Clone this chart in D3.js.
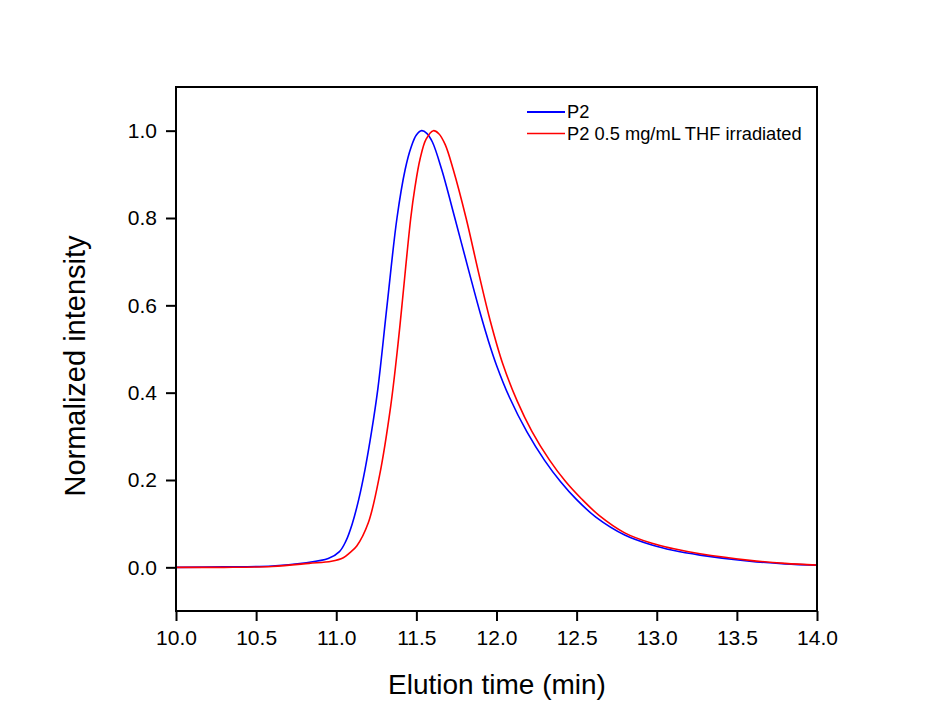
<!DOCTYPE html>
<html>
<head>
<meta charset="utf-8">
<script src="https://cdn.jsdelivr.net/npm/d3@7"></script>
<style>
  html, body { margin: 0; padding: 0; background: #ffffff; }
  svg { display: block; }
  text { font-family: "Liberation Sans", Arial, sans-serif; fill: #000; }
</style>
</head>
<body>
<svg id="chart" width="935" height="727"></svg>
<script>
// ---- data ----
const seriesNames = ["P2", "P2 0.5 mg/mL THF irradiated"];
const seriesColors = ["#0000ff", "#ff0000"];

const p2Time = [10.0, 10.3, 10.6, 10.8, 10.95, 11.02, 11.06, 11.1, 11.14, 11.18, 11.22, 11.26, 11.317, 11.379, 11.43, 11.467, 11.5, 11.533, 11.565, 11.6, 11.658, 11.74, 11.83, 11.9, 11.95, 12.0, 12.08, 12.19, 12.3, 12.4, 12.5, 12.62, 12.8, 12.97, 13.1, 13.27, 13.58, 13.8, 14.0];
const p2Value = [0.0, 0.001, 0.003, 0.010, 0.020, 0.036, 0.06, 0.10, 0.155, 0.225, 0.31, 0.41, 0.6, 0.8, 0.911, 0.962, 0.99, 1.0, 0.994, 0.974, 0.911, 0.80, 0.675, 0.58, 0.518, 0.463, 0.39, 0.31, 0.245, 0.196, 0.155, 0.115, 0.074, 0.051, 0.039, 0.028, 0.014, 0.008, 0.005];

const irrTime = [10.0, 10.3, 10.6, 10.83, 10.97, 11.044, 11.08, 11.128, 11.2, 11.27, 11.34, 11.385, 11.41, 11.465, 11.491, 11.523, 11.56, 11.606, 11.64, 11.68, 11.73, 11.81, 11.89, 11.96, 12.04, 12.13, 12.22, 12.33, 12.43, 12.53, 12.64, 12.8, 12.97, 13.1, 13.27, 13.58, 13.8, 14.0];
const irrValue = [0.0, 0.0, 0.002, 0.009, 0.014, 0.022, 0.032, 0.049, 0.102, 0.21, 0.37, 0.51, 0.6, 0.8, 0.87, 0.935, 0.98, 1.0, 0.993, 0.968, 0.911, 0.80, 0.672, 0.566, 0.465, 0.38, 0.312, 0.246, 0.197, 0.157, 0.119, 0.079, 0.055, 0.043, 0.031, 0.016, 0.009, 0.005];

const xTicks = [10.0, 10.5, 11.0, 11.5, 12.0, 12.5, 13.0, 13.5, 14.0];
const yTicks = [0.0, 0.2, 0.4, 0.6, 0.8, 1.0];
const xTitle = "Elution time (min)";
const yTitle = "Normalized intensity";

// ---- layout ----
const svg = d3.select("#chart");
const plotL = 176, plotR = 817, plotT = 87, plotB = 611;

const x = d3.scaleLinear().domain([10, 14]).range([plotL, plotR]);
const y = d3.scaleLinear().domain([-0.1, 1.1]).range([plotB, plotT]);

// curves
const series = [
  { name: seriesNames[0], color: seriesColors[0], pts: p2Time.map((t, i) => [t, p2Value[i]]) },
  { name: seriesNames[1], color: seriesColors[1], pts: irrTime.map((t, i) => [t, irrValue[i]]) }
];
const line = d3.line().x(d => x(d[0])).y(d => y(d[1])).curve(d3.curveCatmullRom.alpha(0.5));

svg.append("g").selectAll("path").data(series).join("path")
  .attr("d", d => line(d.pts))
  .attr("fill", "none")
  .attr("stroke", d => d.color)
  .attr("stroke-width", 1.6);

// frame
svg.append("rect")
  .attr("x", plotL).attr("y", plotT)
  .attr("width", plotR - plotL).attr("height", plotB - plotT)
  .attr("fill", "none").attr("stroke", "#000").attr("stroke-width", 2);

// axes
const xAxis = d3.axisBottom(x).tickValues(xTicks).tickFormat(d3.format(".1f")).tickSizeOuter(0).tickSizeInner(10).tickPadding(8);
const gx = svg.append("g").attr("transform", `translate(0,${plotB})`).call(xAxis);
gx.select(".domain").remove();
gx.selectAll(".tick line").attr("stroke", "#000").attr("stroke-width", 2);
gx.selectAll(".tick text").attr("font-size", 21).attr("font-family", "Liberation Sans, Arial, sans-serif").attr("dy", "0.75em");

const yAxis = d3.axisLeft(y).tickValues(yTicks).tickFormat(d3.format(".1f")).tickSizeOuter(0).tickSizeInner(10).tickPadding(9);
const gy = svg.append("g").attr("transform", `translate(${plotL},0)`).call(yAxis);
gy.select(".domain").remove();
gy.selectAll(".tick line").attr("stroke", "#000").attr("stroke-width", 2);
gy.selectAll(".tick text").attr("font-size", 21).attr("font-family", "Liberation Sans, Arial, sans-serif");

// titles
svg.append("text")
  .attr("x", 497).attr("y", 694)
  .attr("text-anchor", "middle").attr("font-size", 28)
  .text(xTitle);
svg.append("text")
  .attr("transform", `translate(85,366) rotate(-90)`)
  .attr("text-anchor", "middle").attr("font-size", 29)
  .text(yTitle);

// legend
const lg = svg.append("g");
series.forEach((s, i) => {
  const ly = 112 + i * 21.5;
  lg.append("line").attr("x1", 527).attr("x2", 565).attr("y1", ly).attr("y2", ly)
    .attr("stroke", s.color).attr("stroke-width", i === 0 ? 2.2 : 1.5);
  lg.append("text").attr("x", 567).attr("y", ly).attr("dy", "0.35em")
    .attr("font-size", 18.3).text(s.name);
});
</script>
</body>
</html>
